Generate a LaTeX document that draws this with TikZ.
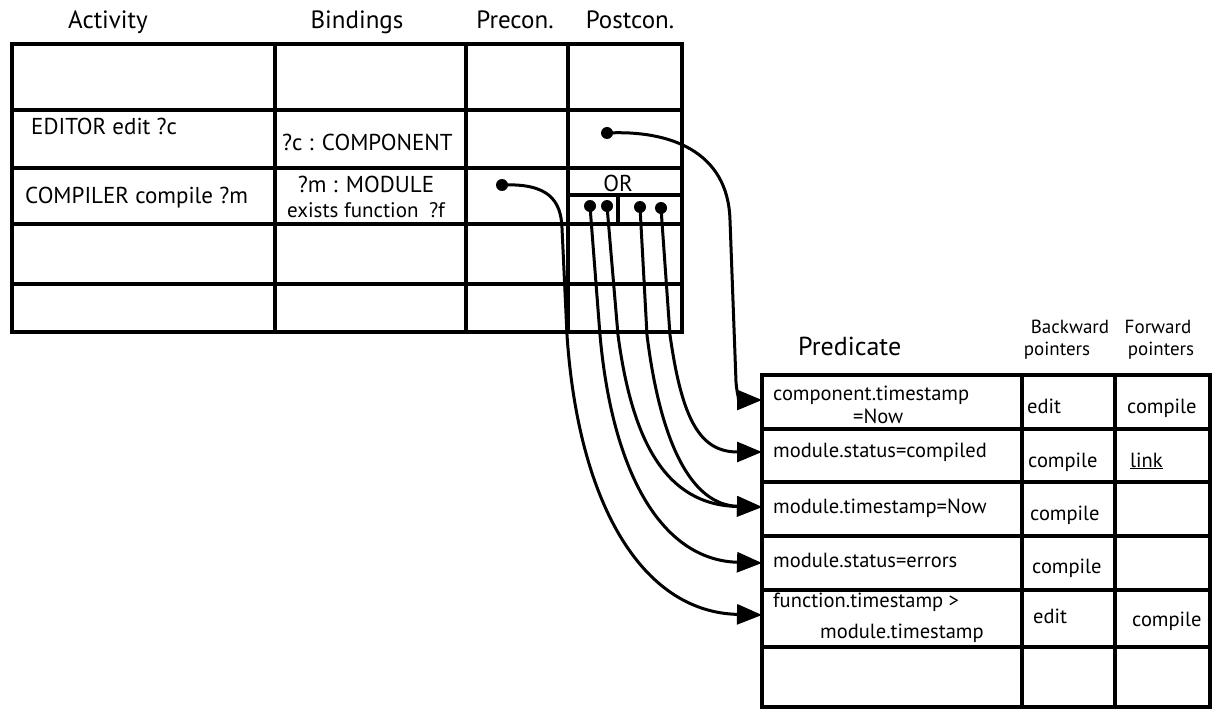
\documentclass[tikz,border=0pt]{standalone}
\usepackage{fontspec}
\setmainfont{PT Sans}
\usetikzlibrary{arrows.meta}
\begin{document}
\begin{tikzpicture}[x=1pt,y=-1pt,
  grid/.style={line width=3.4pt},
  conn/.style={line width=3pt, -{Triangle[length=25pt,width=20pt]}},
  hdr/.style={font=\fontsize{25}{28}\selectfont, inner sep=0pt},
  cell/.style={font=\fontsize{23}{25}\selectfont, inner sep=0pt},
  pcell/.style={font=\fontsize{20.5}{22}\selectfont, inner sep=0pt},
  phdr/.style={font=\fontsize{19}{22}\selectfont, inner sep=0pt},
  dotc/.style={fill, circle, inner sep=0pt, minimum size=12pt}]
\useasboundingbox (0,0) rectangle (1221,714);

% ---- Activity table ----
\draw[grid] (12,44) rectangle (682,332);
\foreach \y in {110,168,224,284} \draw[grid] (12,\y) -- (682,\y);
\foreach \x in {275,466,568} \draw[grid] (\x,44) -- (\x,332);
\draw[grid] (568,195) -- (682,195);
\draw[grid] (618,195) -- (618,224);

\node[hdr, anchor=base] (hAct) at (108,29) {Activity};
\node[hdr, anchor=base] (hBind) at (357,29) {Bindings};
\node[hdr, anchor=base] (hPre) at (515,29) {Precon.};
\node[hdr, anchor=base] (hPost) at (630,29) {Postcon.};

\node[cell, anchor=base west] (ed) at (31,135) {EDITOR edit ?c};
\node[cell, anchor=base west] (edb) at (282,151) {?c : COMPONENT};
\node[cell, anchor=base west] (co) at (25,204) {COMPILER compile ?m};
\node[cell, anchor=base] (cob1) at (366,193) {?m : MODULE};
\node[cell, font=\fontsize{21}{23}\selectfont, anchor=base] (cob2) at (366,218) {exists function\enspace ?f};
\node[cell, anchor=base] (or) at (618,192) {OR};

% ---- Predicate table ----
\draw[grid] (762,375) rectangle (1210,707);
\foreach \y in {429,482,536,590,647} \draw[grid] (762,\y) -- (1210,\y);
\foreach \x in {1022,1115} \draw[grid] (\x,375) -- (\x,707);

\node[font=\fontsize{26}{28}\selectfont, inner sep=0pt, anchor=base west] (hPred) at (798,355) {Predicate};
\node[phdr, anchor=base] (hB1) at (1070,333) {Backward};
\node[phdr, anchor=base] (hB2) at (1057,355) {pointers};
\node[phdr, anchor=base] (hF1) at (1158,333) {Forward};
\node[phdr, anchor=base] (hF2) at (1161,355) {pointers};

\node[pcell, anchor=base west] (r1a) at (773,400) {component.timestamp};
\node[pcell, anchor=base west] (r1b) at (853,423) {=Now};
\node[pcell, anchor=base west] (r1c) at (1027,413) {edit};
\node[pcell, anchor=base west] (r1d) at (1127,413) {compile};

\node[pcell, anchor=base west] (r2a) at (773,457) {module.status=compiled};
\node[pcell, anchor=base west] (r2c) at (1028,467) {compile};
\node[pcell, anchor=base west] (r2d) at (1130,467) {\underline{link}};

\node[pcell, anchor=base west] (r3a) at (773,513) {module.timestamp=Now};
\node[pcell, anchor=base west] (r3c) at (1030,520) {compile};

\node[pcell, anchor=base west] (r4a) at (773,567) {module.status=errors};
\node[pcell, anchor=base west] (r4c) at (1032,573) {compile};

\node[pcell, anchor=base west] (r5a) at (773,607) {function.timestamp >};
\node[pcell, anchor=base west] (r5b) at (820,638) {module.timestamp};
\node[pcell, anchor=base west] (r5c) at (1033,623) {edit};
\node[pcell, anchor=base west] (r5d) at (1132,626) {compile};

% arrow targets on the left border of the predicate table
\coordinate (a1) at (762,400);
\coordinate (a2) at (762,452);
\coordinate (a3) at (762,507);
\coordinate (a4) at (762,563);
\coordinate (a5) at (762,615);

% dots
\node[dotc] (dE) at (607,133) {};
\node[dotc] (dP) at (502,185) {};
\node[dotc] (o1) at (590,206) {};
\node[dotc] (o2) at (607,206) {};
\node[dotc] (o3) at (640,207) {};
\node[dotc] (o4) at (661,208) {};

% connectors
\draw[conn] (dE.center) .. controls (668,130) and (728,150) .. (730,220) -- (736,382) .. controls (737,396) and (740,400) .. (a1);
\draw[conn] (dP.center) .. controls (548,183) and (561,200) .. (562,228) -- (567,335) .. controls (578,500) and (640,612) .. (a5);
\draw[conn] (o1.center) -- (600,335) .. controls (612,470) and (660,560) .. (a4);
\draw[conn] (o2.center) -- (618,335) .. controls (632,440) and (665,505) .. (a3);
\draw[conn] (o3.center) -- (647,335) .. controls (660,440) and (690,505) .. (a3);
\draw[conn] (o4.center) -- (670,335) .. controls (682,420) and (700,452) .. (a2);
\end{tikzpicture}
\end{document}
